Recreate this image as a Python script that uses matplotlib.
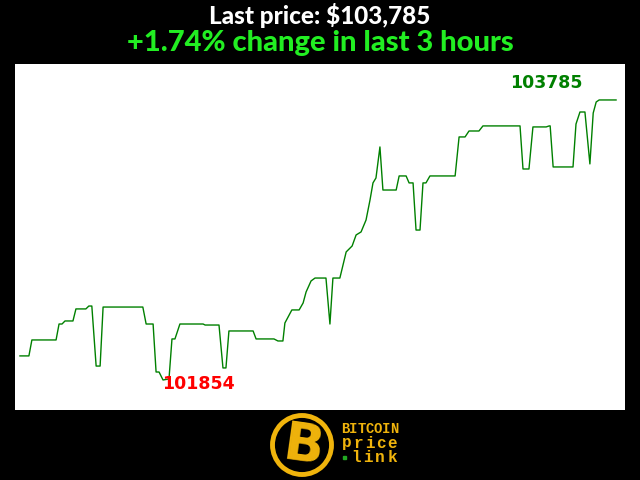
import matplotlib
matplotlib.use("Agg")
import matplotlib.pyplot as plt
import matplotlib.patches as patches

# minutes into the 3 hour window, and the BTC price at each sample
minutes = [0.0, 2.7, 3.6, 10.9, 11.8, 12.7, 13.6, 16.0, 16.9, 19.9,
           20.8, 21.7, 23.0, 24.2, 25.1, 37.1, 38.1, 40.2, 41.1, 42.0,
           43.2, 45.0, 45.9, 46.8, 48.3, 55.3, 55.9, 60.1, 61.3, 62.2,
           63.1, 70.4, 71.3, 76.7, 77.9, 79.4, 80.0, 82.1, 84.3, 85.5,
           86.4, 87.9, 89.1, 92.4, 93.6, 94.5, 96.6, 98.5, 100.3, 101.5,
           103.0, 104.5, 105.7, 106.6, 107.5, 108.7, 109.6, 113.6, 114.5, 116.6,
           117.5, 118.7, 119.6, 120.8, 121.7, 122.6, 123.8, 131.4, 132.6, 134.4,
           135.6, 138.6, 139.8, 151.0, 151.9, 153.7, 154.9, 158.9, 159.8, 160.1,
           161.0, 167.0, 167.9, 169.1, 170.6, 172.1, 173.1, 174.0, 174.9, 180.0]
prices = [102020, 102020, 102130, 102130, 102240, 102240, 102261, 102261, 102344, 102344,
          102364, 102364, 101950, 101950, 102357, 102357, 102240, 102240, 101909, 101909,
          101854, 101861, 102137, 102137, 102240, 102240, 102233, 102233, 101937, 101937,
          102192, 102192, 102137, 102137, 102123, 102123, 102247, 102337, 102337, 102385,
          102461, 102537, 102557, 102557, 102240, 102557, 102557, 102737, 102778, 102854,
          102875, 102957, 103095, 103213, 103247, 103461, 103164, 103164, 103261, 103261,
          103213, 103213, 102888, 102888, 103213, 103213, 103261, 103261, 103530, 103530,
          103571, 103571, 103606, 103606, 103309, 103309, 103599, 103599, 103606, 103606,
          103323, 103323, 103619, 103702, 103702, 103344, 103695, 103771, 103785, 103785]

last_price = prices[-1]
pct_change = 1.74
hours = 3
logo_words = ["BITCOIN", "price", "link"]

fig = plt.figure(figsize=(6.4, 4.8), dpi=100, facecolor="black")
ax = fig.add_axes([15 / 640, 70 / 480, 610 / 640, 346 / 480])
ax.set_facecolor("white")
ax.plot(minutes, prices, color="#008000", linewidth=1)
ax.set_xlim(-1.5, 182.7)
ax.set_ylim(101647, 104033)
ax.set_xticks([])
ax.set_yticks([])
for s in ax.spines.values():
    s.set_visible(False)

# min / max labels
lo = prices.index(min(prices))
hi = prices.index(max(prices))
ax.annotate(str(prices[lo]), (minutes[lo], prices[lo]), xytext=(-1, -3),
            textcoords="offset points", ha="left", va="center",
            color="red", fontsize=12.5, fontweight="bold")
ax.annotate(str(prices[hi]), (minutes[hi], prices[hi]), xytext=(-12, 12),
            textcoords="offset points", ha="right", va="center",
            color="#008000", fontsize=12.5, fontweight="bold")

# titles
fig.text(0.5, 1 - 16 / 480, f"Last price: ${last_price:,}", color="white",
         fontsize=17.5, fontweight="black", family="Lato", ha="center", va="center")
fig.text(0.5, 1 - 43 / 480, f"+{pct_change}% change in last {hours} hours",
         color="#22ee22", fontsize=21, fontweight="black", family="Lato",
         ha="center", va="center")

# logo
lax = fig.add_axes([260 / 640, 0, 160 / 640, 70 / 480])
lax.set_xlim(260, 420)
lax.set_ylim(480, 410)
lax.set_aspect("equal")
lax.axis("off")
gold = "#f0b40c"
lax.add_patch(patches.Circle((302, 445), 29.5, fill=False, edgecolor=gold, linewidth=3.5))
lax.text(303, 446, "B", color=gold, fontsize=38, fontweight="heavy",
         ha="center", va="center", rotation=-8, family="DejaVu Sans")
# each word spread over the same width, right edge at 398 px
for i, word in enumerate(logo_words):
    left = 341 if i < 2 else 350
    step = (398 - left) / len(word)
    size = 10 if i == 0 else 11.5
    for j, ch in enumerate(word):
        lax.text(left + (j + 0.5) * step, 429 + i * 14, ch, color=gold,
                 fontsize=size, fontweight="bold", family="Liberation Mono",
                 ha="center", va="center")
lax.add_patch(patches.Rectangle((342.5, 455.5), 3, 3, color="#22aa22"))

fig.savefig("out.png", dpi=100, facecolor="black")
